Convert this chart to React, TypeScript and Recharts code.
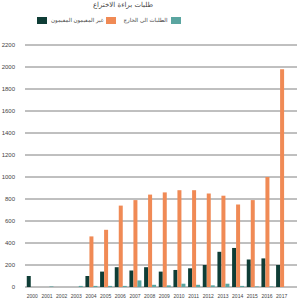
import React from 'react';
import { BarChart, Bar, XAxis, YAxis, CartesianGrid } from 'recharts';

const years = ['2000', '2001', '2002', '2003', '2004', '2005', '2006', '2007', '2008', '2009', '2010', '2011', '2012', '2013', '2014', '2015', '2016', '2017'];
const residents = [100, 0, 0, 0, 100, 140, 180, 150, 180, 140, 155, 170, 200, 320, 355, 250, 260, 200];
const nonResidents = [0, 0, 0, 0, 460, 520, 740, 790, 840, 860, 880, 880, 850, 830, 750, 790, 1000, 1980];
const abroad = [0, 5, 0, 10, 10, 10, 10, 60, 20, 15, 30, 20, 15, 30, 10, 5, 5, 0];
const yTicks = [0, 200, 400, 600, 800, 1000, 1200, 1400, 1600, 1800, 2000, 2200];

const data = years.map((y, i) => ({
    year: y,
    residents: residents[i],
    nonResidents: nonResidents[i],
    abroad: abroad[i],
}));

const DARK = '#0f3d36';
const ORANGE = '#f08a55';
const TEAL = '#5aa5a0';

const arabic = { fontFamily: '"DejaVu Sans", sans-serif', color: '#444', whiteSpace: 'nowrap' as const };

const Swatch: React.FC<{ x: number; color: string }> = ({ x, color }) => (
    <div style={{ position: 'absolute', left: x, top: 17, width: 10, height: 7, background: color }} />
);

// legend text box spanning [left, left + width]
const Label: React.FC<{ left: number; width: number; text: string }> = ({ left, width, text }) => (
    <div style={{ ...arabic, position: 'absolute', left, width, top: 16, fontSize: 5.5, lineHeight: '8px', textAlign: 'center', direction: 'rtl' }}>{text}</div>
);

export default function App() {
    return (
        <div style={{ position: 'absolute', left: 0, top: 0, width: 300, height: 298, background: '#fff' }}>
            <div style={{ ...arabic, position: 'absolute', left: 0, width: 246, top: 1, fontSize: 7, textAlign: 'center', direction: 'rtl' }}>
                طلبات براءة الاختراع
            </div>
            <Swatch x={37} color={DARK} />
            <Label left={49} width={25} text="المقيمون" />
            <Label left={73} width={31} text="غير المقيمون" />
            <Swatch x={106} color={ORANGE} />
            <Label left={122} width={47} text="الطلبات الى الخارج" />
            <Swatch x={171} color={TEAL} />
            <BarChart
                width={300}
                height={298}
                data={data}
                margin={{ top: 45, right: 3, bottom: 0, left: 0 }}
                barCategoryGap="12%"
                barGap={0}
            >
                <CartesianGrid vertical={false} stroke="#808080" strokeWidth={1} />
                <XAxis
                    dataKey="year"
                    interval={0}
                    tickLine={false}
                    axisLine={false}
                    height={11}
                    tickMargin={1}
                    padding={{ left: 0, right: 8 }}
                    tick={{ fontSize: 5, fill: '#444', fontFamily: 'Arial, "Liberation Sans", sans-serif' }}
                />
                <YAxis
                    domain={[0, 2200]}
                    ticks={yTicks}
                    interval={0}
                    width={25}
                    tickLine={false}
                    axisLine={false}
                    tickMargin={4}
                    tick={{ fontSize: 6, fill: '#444', fontFamily: 'Arial, "Liberation Sans", sans-serif' }}
                />
                <Bar dataKey="residents" fill={DARK} isAnimationActive={false} />
                <Bar dataKey="nonResidents" fill={ORANGE} isAnimationActive={false} />
                <Bar dataKey="abroad" fill={TEAL} isAnimationActive={false} />
            </BarChart>
        </div>
    );
}
